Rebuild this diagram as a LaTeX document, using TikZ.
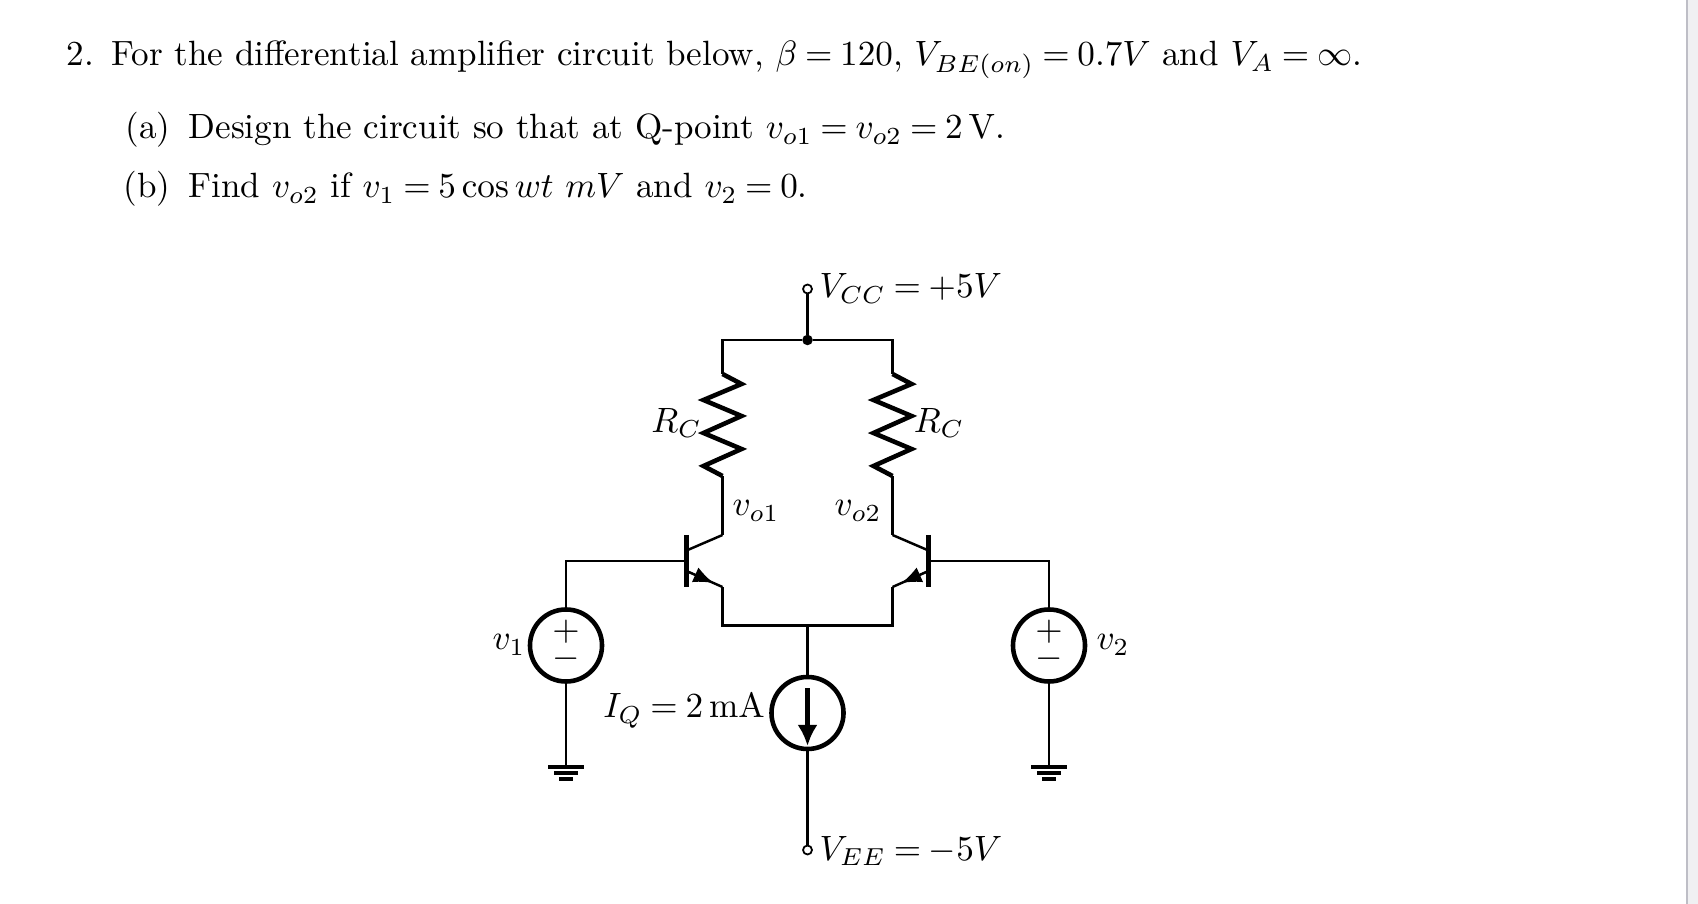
\documentclass[tikz,border=0pt]{standalone}
\usepackage{amsmath}
\usepackage{amssymb}
\usetikzlibrary{arrows.meta}
\definecolor{scrollbar}{RGB}{190,190,198}
\definecolor{scrollpane}{RGB}{240,240,242}
\thickmuskip=4mu
\tikzset{%
  wire/.style={line width=0.7pt, line join=miter},
  heavy/.style={line width=1.3pt, line join=miter},% resistor, bar of a transistor
  source/.style={draw, circle, line width=1.3pt, minimum size=0.72cm, inner sep=0pt},
  terminal/.style={draw, circle, line width=0.5pt, fill=white, minimum size=0.09cm, inner sep=0pt},
  junction/.style={draw, circle, fill=black, minimum size=0.09cm, inner sep=0pt},
  lbl/.style={anchor=base west, inner sep=0pt, font=\fontsize{9.98}{12}\selectfont},
  math/.style={inner sep=0pt, font=\fontsize{9.98}{12}\selectfont}
}
\newcommand*{\resistor}[3]{
  \coordinate (#1t) at (#2,#3);
  \coordinate (#1b) at (#2,#3+102);
  \draw[heavy] (#1t) -- ++(19,10) -- ++(-38,16) -- ++(38,16) -- ++(-38,17) -- ++(38,16) -- ++(-38,17) -- (#1b);
}
\newcommand*{\bjt}[3]{
  \begin{scope}[shift={(#2,0)}, xscale=#3]
    \coordinate (#1c) at (0,535);
    \coordinate (#1e) at (0,587);
    \coordinate (#1b) at (-36,561);
    \draw[heavy] (-36,535) -- (-36,587);
    \draw[wire] (-36,550.5) -- (#1c);
    \draw[wire] (#1e) -- (-36,571);
    \draw[line width=0.5pt, -{Latex[length=0.2cm,width=0.16cm]}] (-36,571) -- (-9,583);
  \end{scope}
}
\newcommand*{\ground}[2]{
  \coordinate (#1) at (#2,765);
  \draw[line width=1.1pt] (#2-18,767) -- (#2+18,767);
  \draw[line width=1.1pt] (#2-12,773) -- (#2+12,773);
  \draw[line width=1.1pt] (#2-7,779) -- (#2+7,779);
}

\begin{document}
\begin{tikzpicture}[x=0.01cm, y=-0.01cm]
\useasboundingbox (0,0) rectangle (1698,904);
\fill[white] (0,0) rectangle (1698,904);
\fill[scrollpane] (1688,0) rectangle (1698,904);
\fill[scrollbar] (1686,0) rectangle (1688,904);

%%%% problem text
\node[lbl] (num) at (66,66) {2.};
\node[lbl] (stem) at (111,66) {For the differential amplifier circuit below, $\beta=120$, $V_{BE(on)}=0.7V$ and $V_A=\infty$.};
\node[lbl] (parta) at (125,139) {(a)};
\node[lbl] (texta) at (188,139) {Design the circuit so that at Q-point $v_{o1}=v_{o2}=2\,\mathrm{V}$.};
\node[lbl] (partb) at (123,198) {(b)};
\node[lbl] (textb) at (188,198) {Find $v_{o2}$ if $v_1=5\cos wt\ mV$ and $v_2=0$.};

%%%% rails
\node[terminal] (vcc) at (807.5,289) {};
\node[junction] (top) at (807.5,340) {};
\node[terminal] (vee) at (807.5,850) {};
\node[lbl] (vcclbl) at (819,298) {$V_{CC}=+5V$};
\node[lbl] (veelbl) at (819,860) {$V_{EE}=-5V$};

\resistor{rl}{722.5}{374}
\resistor{rr}{892.5}{374}
\bjt{ql}{722.5}{1}
\bjt{qr}{892.5}{-1}
\coordinate (bus) at (807.5,625.5);

\node[source] (vl) at (566,645.5) {};
\node[source] (vr) at (1049,645.5) {};
\node[source] (iq) at (807.5,713) {};
\ground{gl}{566}
\ground{gr}{1049}

\draw[wire] (vcc) -- (top);
\draw[wire] (rlt) |- (top) -| (rrt);
\draw[wire] (rlb) -- (qlc);
\draw[wire] (rrb) -- (qrc);
\draw[wire] (qle) |- (bus) -| (qre);
\draw[wire] (qlb) -| (vl);
\draw[wire] (qrb) -| (vr);
\draw[wire] (vl) -- (gl);
\draw[wire] (vr) -- (gr);
\draw[wire] (bus) -- (iq);
\draw[wire] (iq) -- (vee);

%%%% source marks
\node[math] (vlp) at (566,632) {$+$};
\node[math] (vlm) at (566,659) {$-$};
\node[math] (vrp) at (1049,632) {$+$};
\node[math] (vrm) at (1049,659) {$-$};
\coordinate (iqt) at (807.5,688);
\coordinate (iqh) at (807.5,746);
\draw[line width=1.3pt, -{Latex[length=0.21cm,width=0.2cm]}] (iqt) -- (iqh);

%%%% labels
\node[math] (rllbl) at (676.5,423) {$R_C$};
\node[math] (rrlbl) at (939,423) {$R_C$};
\node[math] (volbl) at (756,511) {$v_{o1}$};
\node[math] (vo2lbl) at (858,511) {$v_{o2}$};
\node[math] (v1lbl) at (509,645) {$v_1$};
\node[math] (v2lbl) at (1113,645) {$v_2$};
\node[math] (iqlbl) at (684,711) {$I_Q=2\,\mathrm{mA}$};
\end{tikzpicture}
\end{document}
